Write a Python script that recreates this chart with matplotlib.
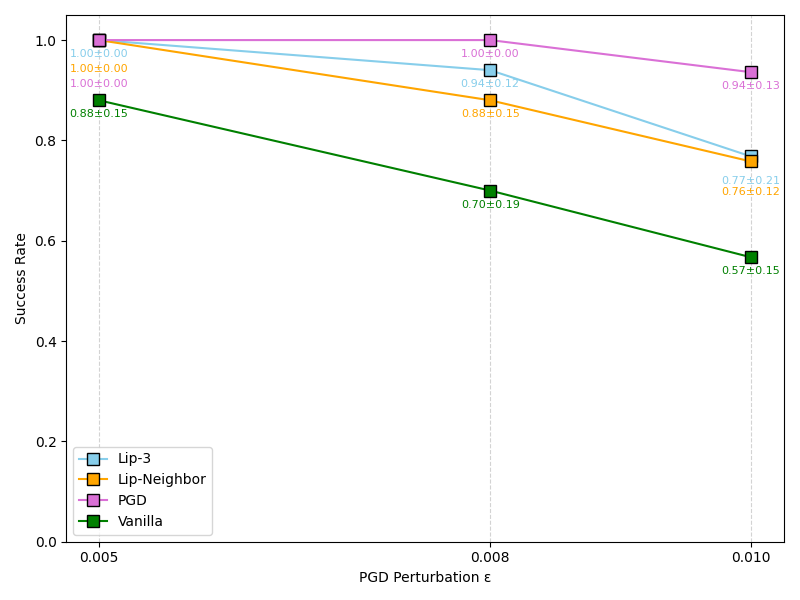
import matplotlib
matplotlib.use("Agg")
import matplotlib.pyplot as plt
import numpy as np

eps = [0.005, 0.008, 0.010]
methods = ["Lip-3", "Lip-Neighbor", "PGD", "Vanilla"]
colors = ["skyblue", "orange", "orchid", "green"]
means = {
    "Lip-3": [1.00, 0.94, 0.768],
    "Lip-Neighbor": [1.00, 0.88, 0.758],
    "PGD": [1.00, 1.00, 0.936],
    "Vanilla": [0.88, 0.70, 0.567],
}
stds = {
    "Lip-3": [0.00, 0.12, 0.21],
    "Lip-Neighbor": [0.00, 0.15, 0.12],
    "PGD": [0.00, 0.00, 0.13],
    "Vanilla": [0.15, 0.19, 0.15],
}

fig, ax = plt.subplots(figsize=(8, 6), dpi=100)

for m, c in zip(methods, colors):
    ax.plot(eps, means[m], marker="s", color=c, markersize=9,
            markeredgecolor="black", label=m)

# place the mean±std labels under each point, pushing them down when they collide
for i, x in enumerate(eps):
    order = sorted(methods, key=lambda m: -means[m][i])
    prev = None
    prev_v = None
    for m in order:
        v = means[m][i]
        ly = v - 0.028
        lower = [means[o][i] for o in methods if o != m and 0 < v - means[o][i] < 0.02]
        if lower:
            ly = min(lower) - 0.038
        gap = 0.03 if prev_v == v else 0.022
        if prev is not None and ly > prev - gap:
            ly = prev - gap
        prev = ly
        prev_v = v
        ax.text(x, ly, f"{v:.2f}±{stds[m][i]:.2f}", color=colors[methods.index(m)],
                fontsize=8, ha="center", va="center")

ax.set_xticks(eps)
ax.set_xticklabels([f"{e:.3f}" for e in eps])
ax.grid(True, axis="x", linestyle="--", color="lightgray")
ax.set_ylim(0, 1.05)
ax.set_xlabel("PGD Perturbation ε")
ax.set_ylabel("Success Rate")
ax.legend(loc="lower left")
plt.tight_layout()
plt.savefig("out.png")
